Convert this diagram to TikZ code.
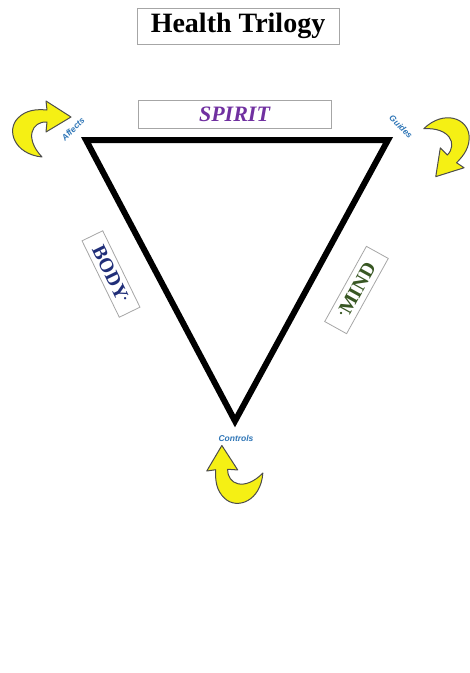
\documentclass[tikz,border=0pt]{standalone}
\usepackage{fontspec}
\setmainfont{Liberation Serif}
\setsansfont{Liberation Sans}

\definecolor{spiritpurple}{RGB}{112,48,160}
\definecolor{bodyblue}{RGB}{32,46,120}
\definecolor{mindgreen}{RGB}{56,87,35}
\definecolor{labelblue}{RGB}{46,117,182}
\definecolor{arrowyellow}{RGB}{245,240,20}

\tikzset{
  arrowfill/.style={fill=arrowyellow, draw=gray!60!black, line width=1pt, line join=round},
  bentarrow/.pic={
    \draw[arrowfill] (4,27) .. controls (-24,24) and (-32,0) .. (-20,-12)
      .. controls (-12,-20) and (-2,-21) .. (9,-20) -- (8,-29) -- (33,-13)
      -- (8,2) -- (9,-8) .. controls (-6,-9) and (-14,8) .. (4,27) -- cycle;
  }
}

\begin{document}
\begin{tikzpicture}[x=1pt, y=-1pt,
  box/.style={draw=gray!70, line width=0.8pt, inner sep=0pt},
  word/.style={font=\sffamily\bfseries\itshape\fontsize{8.5}{8.5}\selectfont, text=labelblue}]
  \useasboundingbox (0,0) rectangle (470,673);

  % Title
  \node[box, minimum width=202pt, minimum height=36pt,
    font=\bfseries\fontsize{28}{28}\selectfont] (title) at (238,26) {Health Trilogy};

  % Corners
  \coordinate (S) at (86,140);
  \coordinate (G) at (388,140);
  \coordinate (C) at (235,421);

  % Triangle
  \draw[line width=6pt, line join=miter] (S) -- (G) -- (C) -- cycle;

  % Sides
  \node[box, minimum width=193pt, minimum height=28pt, text=spiritpurple,
    font=\bfseries\itshape\fontsize{22}{22}\selectfont] (spirit) at (234.5,114) {SPIRIT};
  \node[box, rotate=-64, minimum width=85pt, minimum height=23pt, text=bodyblue,
    font=\bfseries\fontsize{20}{20}\selectfont] (body) at (111,274) {BODY\textsuperscript{.}};
  \node[box, rotate=61, minimum width=86pt, minimum height=25pt, text=mindgreen,
    font=\bfseries\fontsize{20}{20}\selectfont] (mind) at (356.5,290) {\textsuperscript{.}MIND};

  % Arrows
  \pic at (38,130) {bentarrow};
  \pic[rotate=-130] at (447,143) {bentarrow};
  \pic[rotate=92] at (236,478) {bentarrow};

  % Labels
  \node[word, rotate=45] (affects) at (73,129) {Affects};
  \node[word, rotate=-45] (guides) at (401,127) {Guides};
  \node[word] (controls) at (236,438) {Controls};
\end{tikzpicture}
\end{document}
